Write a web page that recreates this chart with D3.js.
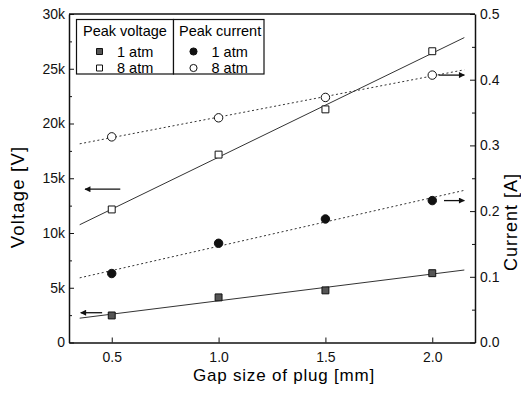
<!DOCTYPE html>
<html>
<head>
<meta charset="utf-8">
<script src="https://cdn.jsdelivr.net/npm/d3@7"></script>
<style>
  body { margin: 0; background: #fff; }
  svg { font-family: "Liberation Sans", Arial, sans-serif; }
  .axis path, .axis line { stroke: #111; }
  .axis text { font-size: 14px; fill: #111; }
</style>
</head>
<body>
<div id="chart"></div>
<script>
// gap size of plug [mm]
const gaps = [0.5, 1.0, 1.5, 2.0];
// peak voltage [V]
const volt1atm = [2470, 4120, 4760, 6330];
const volt8atm = [12150, 17160, 21290, 26600];
// peak current [A]
const curr1atm = [0.105, 0.151, 0.188, 0.216];
const curr8atm = [0.313, 0.342, 0.373, 0.407];

const xTicks = [0.5, 1.0, 1.5, 2.0];
const voltTicks = [0, 5000, 10000, 15000, 20000, 25000, 30000];
const currTicks = [0, 0.1, 0.2, 0.3, 0.4, 0.5];

// arrows: [x from, x to, value, axis]
const arrows = [
    [0.54, 0.375, 14000, "v"],
    [0.455, 0.355, 2720, "v"],
    [2.03, 2.15, 0.407, "i"],
    [2.055, 2.15, 0.216, "i"]
];

const W = 521, H = 396;
const pLeft = 69, pRight = 475, pTop = 14, pBottom = 342.5;

const svg = d3.select("#chart").append("svg")
    .attr("width", W)
    .attr("height", H);

const x = d3.scaleLinear().domain([0.3, 2.2]).range([pLeft, pRight]);
const yV = d3.scaleLinear().domain([0, 30000]).range([pBottom, pTop]);
const yI = d3.scaleLinear().domain([0, 0.5]).range([pBottom, pTop]);

// minor ticks first
svg.append("g")
    .attr("class", "axis")
    .attr("transform", "translate(" + pLeft + ",0)")
    .call(d3.axisLeft(yV).tickValues(d3.range(2500, 30000, 5000)).tickSize(-3).tickFormat(""))
    .select(".domain").remove();
svg.append("g")
    .attr("class", "axis")
    .attr("transform", "translate(" + pRight + ",0)")
    .call(d3.axisRight(yI).tickValues(d3.range(0.05, 0.5, 0.1)).tickSize(-3).tickFormat(""))
    .select(".domain").remove();

svg.append("g")
    .attr("class", "axis")
    .attr("transform", "translate(" + pLeft + ",0)")
    .call(d3.axisLeft(yV).tickValues(voltTicks).tickSizeInner(-5).tickSizeOuter(0).tickPadding(4)
        .tickFormat(d => d === 0 ? "0" : (d / 1000) + "k"))
    .selectAll("text").attr("font-size", 15);

svg.append("g")
    .attr("class", "axis")
    .attr("transform", "translate(" + pRight + ",0)")
    .call(d3.axisRight(yI).tickValues(currTicks).tickSizeInner(-5).tickSizeOuter(0).tickPadding(5)
        .tickFormat(d3.format(".1f")));

svg.append("g")
    .attr("class", "axis")
    .attr("transform", "translate(0," + pBottom + ")")
    .call(d3.axisBottom(x).tickValues(xTicks).tickSizeInner(-5).tickSizeOuter(0).tickPadding(10)
        .tickFormat(d3.format(".1f")));

svg.selectAll(".axis .domain").attr("stroke-width", 1.5);

// top border
svg.append("line")
    .attr("x1", pLeft).attr("x2", pRight)
    .attr("y1", pTop).attr("y2", pTop)
    .attr("stroke", "#111").attr("stroke-width", 1.5);

// axis titles
svg.append("text")
    .attr("x", 284).attr("y", 381)
    .attr("text-anchor", "middle")
    .attr("font-size", 17).attr("letter-spacing", 0.8)
    .text("Gap size of plug [mm]");

svg.append("text")
    .attr("transform", "translate(24,197) rotate(-90)")
    .attr("text-anchor", "middle")
    .attr("font-size", 18.5).attr("letter-spacing", 1.2)
    .text("Voltage [V]");

svg.append("text")
    .attr("transform", "translate(517,222) rotate(-90)")
    .attr("text-anchor", "middle")
    .attr("font-size", 18).attr("letter-spacing", 1)
    .text("Current [A]");

// least squares fit
function fit(xs, ys) {
    const mx = d3.mean(xs), my = d3.mean(ys);
    const b = d3.sum(xs, (v, i) => (v - mx) * (ys[i] - my)) / d3.sum(xs, v => (v - mx) * (v - mx));
    return xv => my + b * (xv - mx);
}

const series = [
    { vals: volt1atm, y: yV, dash: null, sym: "sq", fill: "#555" },
    { vals: volt8atm, y: yV, dash: null, sym: "sq", fill: "#fff" },
    { vals: curr1atm, y: yI, dash: "2,2.5", sym: "ci", fill: "#111" },
    { vals: curr8atm, y: yI, dash: "2,2.5", sym: "ci", fill: "#fff" }
];

series.forEach(s => {
    const f = fit(gaps, s.vals);
    svg.append("line")
        .attr("x1", x(0.35)).attr("y1", s.y(f(0.35)))
        .attr("x2", x(2.15)).attr("y2", s.y(f(2.15)))
        .attr("stroke", "#333").attr("stroke-width", 1)
        .attr("stroke-dasharray", s.dash);

    svg.append("g").selectAll("path")
        .data(gaps.map((g, i) => [g, s.vals[i]]))
        .join("path")
        .attr("transform", d => "translate(" + x(d[0]) + "," + s.y(d[1]) + ")")
        .attr("d", s.sym === "sq" ? d3.symbol(d3.symbolSquare, 48) : d3.symbol(d3.symbolCircle, 56))
        .attr("fill", s.fill)
        .attr("stroke", "#111")
        .attr("stroke-width", 1);
});

// arrows
svg.append("defs").append("marker")
    .attr("id", "head")
    .attr("viewBox", "0 0 10 10")
    .attr("refX", 9).attr("refY", 5)
    .attr("markerWidth", 9).attr("markerHeight", 6)
    .attr("markerUnits", "userSpaceOnUse")
    .attr("orient", "auto")
    .append("path")
    .attr("d", "M0,0L10,5L0,10Z")
    .attr("fill", "#111");

arrows.forEach(a => {
    const yy = a[3] === "v" ? yV(a[2]) : yI(a[2]);
    svg.append("line")
        .attr("x1", x(a[0])).attr("x2", x(a[1]))
        .attr("y1", yy).attr("y2", yy)
        .attr("stroke", "#111").attr("stroke-width", 1.3)
        .attr("marker-end", "url(#head)");
});

// legend
const lg = svg.append("g").attr("font-size", 14.5);
lg.append("rect").attr("x", 76.5).attr("y", 19.5).attr("width", 97).attr("height", 54.5)
    .attr("fill", "#fff").attr("stroke", "#111").attr("stroke-width", 1.2);
lg.append("rect").attr("x", 173.5).attr("y", 19.5).attr("width", 90.5).attr("height", 54.5)
    .attr("fill", "#fff").attr("stroke", "#111").attr("stroke-width", 1.2);
lg.append("text").attr("x", 83).attr("y", 35.5).text("Peak voltage");
lg.append("text").attr("x", 179).attr("y", 35.5).text("Peak current");

const legendRows = [
    { x: 99.5, y: 51.5, sym: "sq", fill: "#555", label: "1 atm", tx: 117 },
    { x: 99.5, y: 68, sym: "sq", fill: "#fff", label: "8 atm", tx: 117 },
    { x: 193.5, y: 51.5, sym: "ci", fill: "#111", label: "1 atm", tx: 211.5 },
    { x: 193.5, y: 68, sym: "ci", fill: "#fff", label: "8 atm", tx: 211.5 }
];
legendRows.forEach(r => {
    lg.append("path")
        .attr("transform", "translate(" + r.x + "," + r.y + ")")
        .attr("d", r.sym === "sq" ? d3.symbol(d3.symbolSquare, 36) : d3.symbol(d3.symbolCircle, 40))
        .attr("fill", r.fill).attr("stroke", "#111").attr("stroke-width", 1);
    lg.append("text").attr("x", r.tx).attr("y", r.y + 5).text(r.label);
});
</script>
</body>
</html>
